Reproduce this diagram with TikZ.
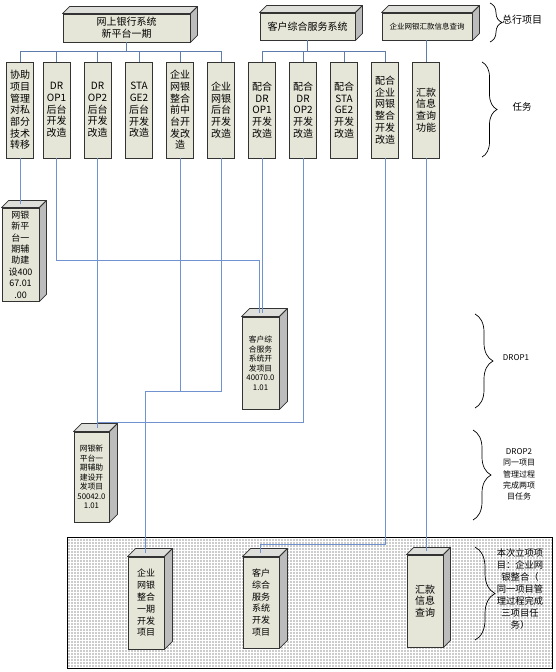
\documentclass[tikz,border=0pt]{standalone}
\usepackage{fontspec}
\setmainfont{Noto Sans CJK SC}
\usepackage{xcolor}
\usepackage{tikz}
\usetikzlibrary{patterns}
\usetikzlibrary{decorations.pathreplacing}
\definecolor{boxfill}{RGB}{230,230,216}
\definecolor{topface}{RGB}{222,222,218}
\definecolor{sideface}{RGB}{188,188,188}
\definecolor{linkblue}{RGB}{112,146,206}
\pgfdeclarepatternformonly{finedots}{\pgfqpoint{-1pt}{-1pt}}{\pgfqpoint{1pt}{1pt}}{\pgfqpoint{3pt}{3pt}}{%
	\pgfpathcircle{\pgfqpoint{0pt}{0pt}}{0.6pt}\pgfusepath{fill}}
\newcommand{\solidbox}[2][7]{%
	\filldraw[fill=topface, draw=black!80, line width=0.8pt, line join=round] (#2.north west) -- ([shift={(#1,-#1)}]#2.north west) -- ([shift={(#1,-#1)}]#2.north east) -- (#2.north east) -- cycle;
	\filldraw[fill=sideface, draw=black!80, line width=0.8pt, line join=round] (#2.north east) -- ([shift={(#1,-#1)}]#2.north east) -- ([shift={(#1,-#1)}]#2.south east) -- (#2.south east) -- cycle;
	\coordinate (#2-top) at ([shift={(#1/2,-#1/2)}]#2.north);
}

\begin{document}
\begin{tikzpicture}[x=1pt, y=-1pt,
		front/.style={draw=black!80, fill=boxfill, line width=0.9pt, inner sep=0pt, align=center},
		task/.style={front, minimum width=27pt, minimum height=96pt, font=\fontsize{10}{11.7}\selectfont},
		project/.style={front, minimum width=37pt, minimum height=92pt, font=\fontsize{7.8}{9.5}\selectfont},
		link/.style={draw=linkblue, line width=0.8pt},
		bus/.style={draw=linkblue!85!black, line width=1pt},
		note/.style={align=center, font=\fontsize{8}{11.3}\selectfont},
		curly/.style={decorate, line width=0.7pt}]
		\useasboundingbox (0,0) rectangle (555,672);
		\fill[white] (67,537) rectangle (552,668);
		\draw[pattern=finedots, pattern color=black!85, line width=0.8pt] (67,537) rectangle (552,668);
		
		\node[front, minimum width=127pt, minimum height=28pt, font=\fontsize{10}{11.7}\selectfont] (wsyh) at (126.5,28) {网上银行系统\\新平台一期};
		\node[front, minimum width=95pt, minimum height=27pt, font=\fontsize{10}{12}\selectfont] (khxt) at (307.5,26.5) {客户综合服务系统};
		\node[front, minimum width=90pt, minimum height=27pt, font=\fontsize{7.5}{9}\selectfont] (hkxt) at (427,26.5) {企业网银汇款信息查询};
		\solidbox{wsyh}
		\solidbox{khxt}
		\solidbox{hkxt}
		
		\node[task] (t1) at (20,110) {协助\\项目\\管理\\对私\\部分\\技术\\转移};
		\node[task] (t2) at (56.5,110) {DR\\OP1\\后台\\开发\\改造};
		\node[task] (t3) at (97.5,110) {DR\\OP2\\后台\\开发\\改造};
		\node[task] (t4) at (139,110) {STA\\GE2\\后台\\开发\\改造};
		\node[task] (t5) at (180,110) {企业\\网银\\整合\\前中\\台开\\发改\\造};
		\node[task] (t6) at (221,110) {企业\\网银\\后台\\开发\\改造};
		\node[task] (t7) at (262,110) {配合\\DR\\OP1\\开发\\改造};
		\node[task] (t8) at (303,110) {配合\\DR\\OP2\\开发\\改造};
		\node[task] (t9) at (344,110) {配合\\STA\\GE2\\开发\\改造};
		\node[task] (t10) at (385,110) {配合\\企业\\网银\\整合\\开发\\改造};
		\node[task] (t11) at (426,110) {汇款\\信息\\查询\\功能};
		
		\node[project, minimum height=93pt, font=\fontsize{9}{11.4}\selectfont] (xm1) at (20.5,254.5) {网银\\新平\\台一\\期辅\\助建\\设400\\67.01\\.00};
		\node[project] (xm2) at (260.5,363) {客户综\\合服务\\系统开\\发项目\\40070.0\\1.01};
		\node[project, minimum width=35pt, minimum height=90pt] (xm3) at (91.5,477) {网银新\\平台一\\期辅助\\建设开\\发项目\\50042.0\\1.01};
		\solidbox{xm1}
		\solidbox[8]{xm2}
		\solidbox[8]{xm3}
		
		\node[project, minimum width=36pt, font=\fontsize{9}{11.8}\selectfont] (kf1) at (146,603) {企业\\网银\\整合\\一期\\开发\\项目};
		\node[project, minimum width=36pt, minimum height=91pt, font=\fontsize{9}{11.8}\selectfont] (kf2) at (261,602.5) {客户\\综合\\服务\\系统\\开发\\项目};
		\node[project, minimum width=36pt, font=\fontsize{10}{11.5}\selectfont] (kf3) at (425,601) {汇款\\信息\\查询};
		\solidbox[8]{kf1}
		\solidbox[8]{kf2}
		\solidbox{kf3}
		
		\coordinate (busA) at (0,51);
		\draw[bus] (wsyh.south) -- (wsyh.south |- busA);
		\draw[bus] (t1.north) -- (t1.north |- busA) -- (t6.north |- busA) -- (t6.north);
		\foreach \t in {t2,t3,t4,t5}
			\draw[bus] (\t.north) -- (\t.north |- busA);
		\draw[bus] (khxt.south) -- (khxt.south |- busA);
		\draw[bus] (t7.north) -- (t7.north |- busA) -- (t10.north |- busA) -- (t10.north);
		\foreach \t in {t8,t9}
			\draw[bus] (\t.north) -- (\t.north |- busA);
		\draw[bus] (t11.north |- hkxt.south) -- (t11.north);
		
		\coordinate (jB) at (259,260);
		\coordinate (jC) at (0,422);
		\coordinate (jD) at (145,391);
		\coordinate (jE) at (260,544);
		\draw[link] (t1.south) -- (t1.south |- xm1-top);
		\draw[link] (t2.south) |- (jB) -- (jB |- xm2-top);
		\draw[link] (t7.south) -- (t7.south |- xm2-top);
		\draw[link] (t3.south) -- (t3.south |- xm3-top);
		\draw[link] (t8.south) |- (t3.south |- jC);
		\draw[link] (t6.south) |- (jD) -- (jD |- kf1-top);
		\draw[link] (t5.south) -- (t5.south |- jD);
		\draw[link] (t10.south) |- (jE) -- (jE |- kf2-top);
		\draw[link] (t11.south) -- (t11.south |- kf3-top);
		
		\draw[curly, decoration={brace, amplitude=12pt}] (490,3) -- (490,42);
		\draw[curly, decoration={brace, amplitude=15pt}] (482,62) -- (482,157);
		\draw[curly, decoration={brace, amplitude=18pt}] (475,314) -- (475,408);
		\draw[curly, decoration={brace, amplitude=18pt}] (473,430) -- (473,520);
		\draw[curly, decoration={brace, amplitude=20pt}] (475,547) -- (475,640);
		
		\node[note, font=\fontsize{10}{12}\selectfont] (zhxm) at (522,20) {总行项目};
		\node[note, font=\fontsize{9.5}{12}\selectfont] (rw) at (522,107) {任务};
		\node[note] (drop1) at (516,358) {DROP1};
		\node[note] (drop2) at (519,474.5) {DROP2\\同一项目\\管理过程\\完成两项\\目任务};
		\node[note, font=\fontsize{9.3}{12}\selectfont] (bcxm) at (520,589) {本次立项项\\目：企业网\\银整合（\\同一项目管\\理过程完成\\三项目任\\务）};
\end{tikzpicture}
\end{document}
